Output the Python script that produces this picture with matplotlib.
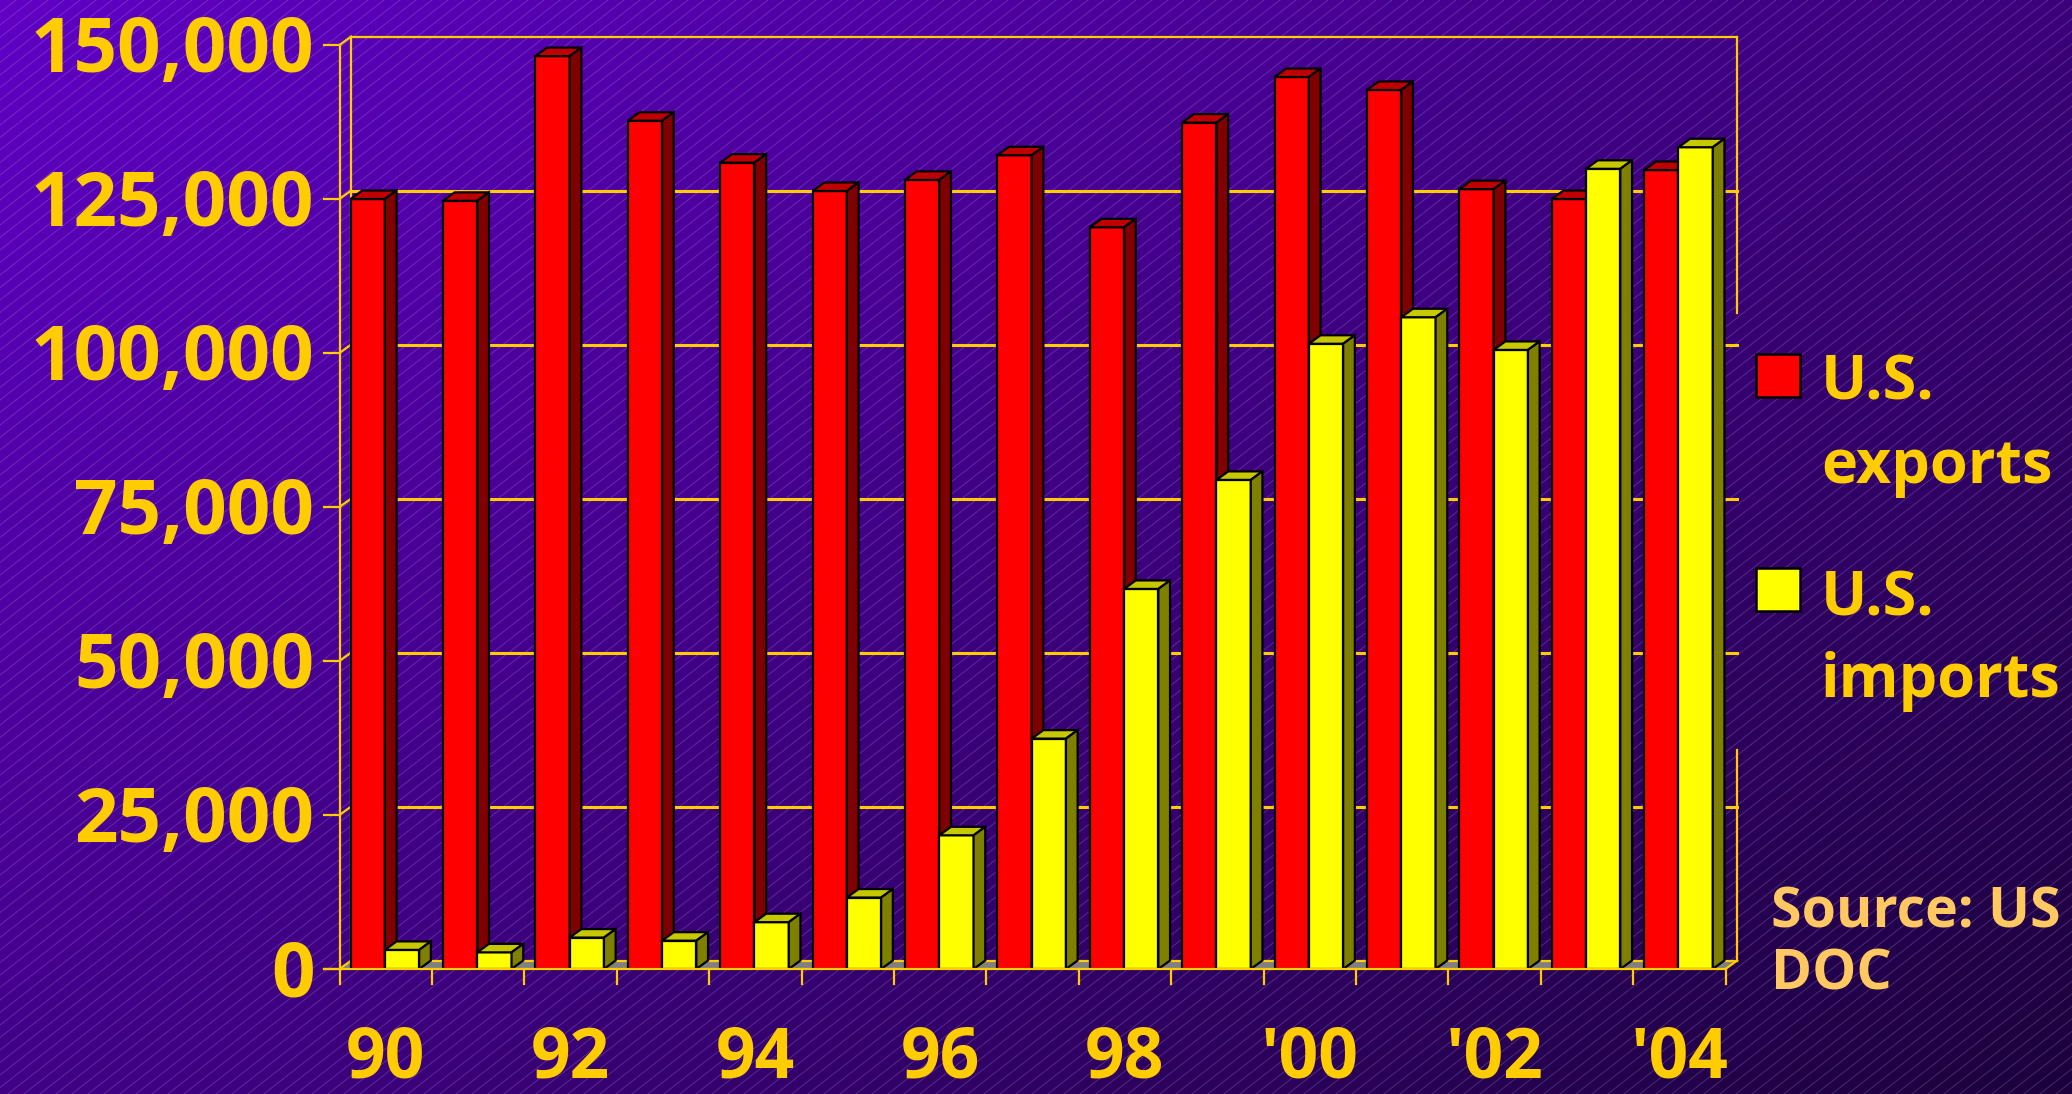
import numpy as np
import matplotlib
matplotlib.use("Agg")
import matplotlib.pyplot as plt
from matplotlib.patches import Polygon, Rectangle
from matplotlib.collections import LineCollection
from matplotlib.transforms import ScaledTranslation

# yearly trade, 1990-2004
years = list(range(1990, 2005))
exports = [125000, 124700, 148200, 137700, 130900, 126300, 128100, 132100,
           120400, 137400, 144800, 142700, 126600, 125000, 129700]
imports = [3100, 2700, 5100, 4600, 7600, 11600, 21700, 37400,
           61700, 79400, 101500, 105800, 100500, 129900, 133400]
year_labels = ["90", "92", "94", "96", "98", "'00", "'02", "'04"]
yticks = [0, 25000, 50000, 75000, 100000, 125000, 150000]

W, H, DPI = 2072, 1094, 100
GOLD = "#FFCC00"
FONT = "Open Sans"

plt.rcParams['font.family'] = [FONT, 'DejaVu Sans']

fig = plt.figure(figsize=(W / DPI, H / DPI), dpi=DPI)

# ---- background: diagonal purple gradient with fine hatching
bg = fig.add_axes([0, 0, 1, 1], zorder=-5)
gx, gy = np.meshgrid(np.linspace(0, 1, 400), np.linspace(0, 1, 220))
t = (0.55 * gx + 0.45 * gy)
c0 = np.array([0x60, 0x00, 0xC4]) / 255
c1 = np.array([0x1C, 0x00, 0x3C]) / 255
grad = c0[None, None, :] * (1 - t[..., None]) + c1[None, None, :] * t[..., None]
bg.imshow(grad, extent=(0, W, H, 0), aspect='auto', interpolation='bilinear')
slope = np.tan(np.radians(38))
segs = []
for c in np.arange(0, W + H / slope + 20, 16):
    segs.append([(c, 0), (c - H / slope, H)])
bg.add_collection(LineCollection(segs, colors='#B8A4EC', linewidths=0.6, alpha=0.3))
bg.set_xlim(0, W)
bg.set_ylim(H, 0)
bg.axis('off')

# ---- main chart axes (front plane)
x_left, x_right, y_zero, y_top = 339.5, 1725.5, 969.0, 45.0
ax = fig.add_axes([x_left / W, 1 - y_zero / H, (x_right - x_left) / W, (y_zero - y_top) / H])
ax.set_xlim(0, len(years))
ax.set_ylim(0, 150000)
ax.axis('off')
ax.patch.set_alpha(0)

# depth of the 3-D effect, converted from pixels to data units
depth_px_x, depth_px_y = 11.7, 8.5
ddx = depth_px_x * len(years) / (x_right - x_left)
ddy = depth_px_y * 150000 / (y_zero - y_top)
n = len(years)
lw_ax = 1.6

# back wall: left/right edges, top edge, gridlines
ax.plot([ddx, ddx], [ddy, 150000 + ddy], color=GOLD, lw=lw_ax, clip_on=False, zorder=1)
ax.plot([ddx, n + ddx], [150000 + ddy] * 2, color=GOLD, lw=lw_ax, clip_on=False, zorder=1)
legend_gap = (35500, 106500)
ax.plot([n + ddx] * 2, [legend_gap[1], 150000 + ddy], color=GOLD, lw=lw_ax, clip_on=False, zorder=1)
ax.plot([n + ddx] * 2, [ddy, legend_gap[0]], color=GOLD, lw=lw_ax, clip_on=False, zorder=1)
for v in yticks[1:-1]:
    ax.plot([ddx, n + ddx], [v + ddy] * 2, color=GOLD, lw=2.2, clip_on=False, zorder=1)

# floor
ax.add_patch(Polygon([(0, 0), (n, 0), (n + ddx, ddy), (ddx, ddy)], closed=True,
                     facecolor='#808080', edgecolor='none', zorder=1.5, clip_on=False))
ax.plot([ddx, n + ddx], [ddy, ddy], color=GOLD, lw=lw_ax, clip_on=False, zorder=1.6)
ax.plot([n, n + ddx], [0, ddy], color=GOLD, lw=lw_ax, clip_on=False, zorder=1.6)

# front y axis with ticks and connectors to the back wall
tick_len_x = 16 * n / (x_right - x_left)
ax.plot([0, 0], [0, 150000], color=GOLD, lw=lw_ax, clip_on=False, zorder=2)
for v in yticks:
    ax.plot([-tick_len_x, 0], [v, v], color=GOLD, lw=lw_ax, clip_on=False, zorder=2)
    ax.plot([0, ddx], [v, v + ddy], color=GOLD, lw=lw_ax, clip_on=False, zorder=2)

# front x axis with ticks at group boundaries
tick_len_y = 15 * 150000 / (y_zero - y_top)
ax.plot([-tick_len_x, n], [0, 0], color=GOLD, lw=lw_ax, clip_on=False, zorder=6)
for i in range(n + 1):
    ax.plot([i, i], [0, -tick_len_y], color=GOLD, lw=lw_ax, clip_on=False, zorder=6)

# 3-D bars
bar_w = 0.371
lead = 0.12
series = [(exports, '#FF0000', '#C00000', '#800000', 3),
          (imports, '#FFFF00', '#C8C800', '#808000', 4)]
for k, (vals, front, top, side, z) in enumerate(series):
    x0 = np.arange(n) + lead + k * bar_w
    ax.bar(x0, vals, width=bar_w, align='edge', color=front, edgecolor='black',
           linewidth=1.6, zorder=z, clip_on=False)
    for xs, h in zip(x0, vals):
        ax.add_patch(Polygon([(xs, h), (xs + bar_w, h), (xs + bar_w + ddx, h + ddy), (xs + ddx, h + ddy)],
                             closed=True, facecolor=top, edgecolor='black', lw=1.6,
                             zorder=z, clip_on=False))
        ax.add_patch(Polygon([(xs + bar_w, 0), (xs + bar_w + ddx, ddy), (xs + bar_w + ddx, h + ddy), (xs + bar_w, h)],
                             closed=True, facecolor=side, edgecolor='black', lw=1.6,
                             zorder=z, clip_on=False))

# y tick labels
ylab_size = 55
cap = 0.714 * ylab_size * DPI / 72
ytrans = ax.transData + ScaledTranslation(-25 / DPI, -cap / 2 / DPI, fig.dpi_scale_trans)
for v in yticks:
    ax.text(0, v, f"{v:,}", transform=ytrans, ha='right', va='baseline',
            fontsize=ylab_size, fontweight='bold', color=GOLD, family=[FONT, 'DejaVu Sans'])

# x labels under every other year
xtrans = ax.transData + ScaledTranslation(0, -108 / DPI, fig.dpi_scale_trans)
for j, lab in enumerate(year_labels):
    ax.text(2 * j + 0.5, 0, lab, transform=xtrans, ha='center', va='baseline',
            fontsize=50, fontweight='bold', color=GOLD, family=[FONT, 'DejaVu Sans'])

# legend
def fx(px):
    return px / W


def fy(py):
    return 1 - py / H


for (label, color), top_px, base1, base2 in [(("exports", '#FF0000'), 354, 400, 483),
                                             (("imports", '#FFFF00'), 568, 615, 697)]:
    fig.patches.append(Rectangle((fx(1756), fy(top_px + 43)), 44 / W, 43 / H,
                                 transform=fig.transFigure, facecolor=color,
                                 edgecolor='black', lw=1.8, zorder=10))
    fig.text(fx(1821), fy(base1), "U.S.", ha='left', va='baseline', fontsize=44,
             fontweight='bold', color=GOLD)
    fig.text(fx(1821), fy(base2), label, ha='left', va='baseline', fontsize=44,
             fontweight='bold', color=GOLD)

fig.text(fx(1771), fy(927), "Source: US", ha='left', va='baseline', fontsize=40,
         fontweight='bold', color='#FFC860')
fig.text(fx(1771), fy(990), "DOC", ha='left', va='baseline', fontsize=40,
         fontweight='bold', color='#FFC860')

fig.savefig("out.png", dpi=DPI)
